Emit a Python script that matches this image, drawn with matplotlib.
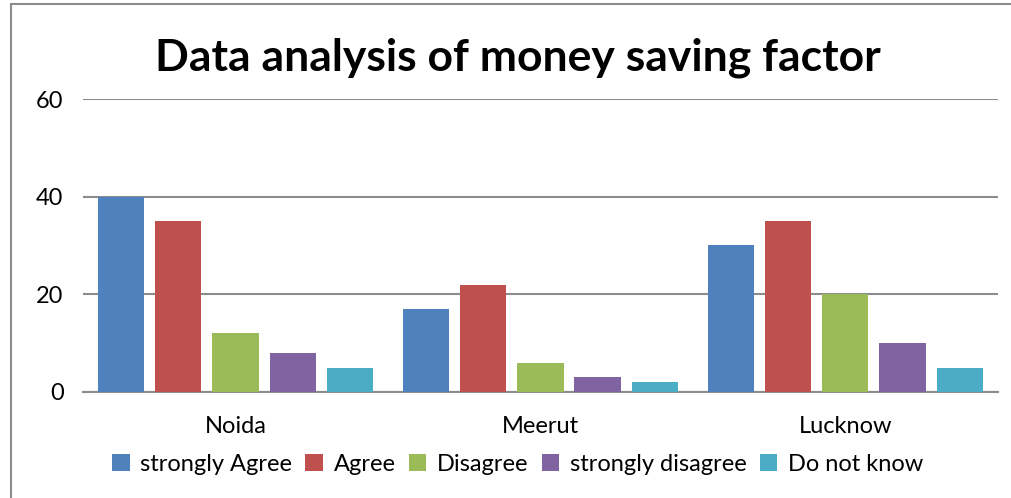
import numpy as np
import matplotlib
matplotlib.use('Agg')
import matplotlib.pyplot as plt
from matplotlib.patches import Rectangle

plt.rcParams['font.family'] = ['Lato', 'DejaVu Sans']

cities = ['Noida', 'Meerut', 'Lucknow']
series = ['strongly Agree', 'Agree', 'Disagree', 'strongly disagree', 'Do not know']
strongly_agree = [40, 17, 30]
agree = [35, 22, 35]
disagree = [12, 6, 20]
strongly_disagree = [8, 3, 10]
do_not_know = [5, 2, 5]
yticks = [0, 20, 40, 60]

values = [strongly_agree, agree, disagree, strongly_disagree, do_not_know]
colors = ['#4F81BD', '#C0504D', '#9BBB59', '#8064A2', '#4BACC6']

fig = plt.figure(figsize=(10.11, 4.98), dpi=100)
ax = fig.add_axes([0.0821, 0.2129, 0.9050, 0.5883])

x = np.arange(len(cities))
step = 0.187
width = 0.151
for i, (vals, c, name) in enumerate(zip(values, colors, series)):
    ax.bar(x + (i - 2) * step, vals, width=width, color=c, label=name, zorder=3)

ax.set_xlim(-0.5, 2.5)
ax.set_ylim(0, 60)
ax.set_yticks(yticks)
ax.set_xticks(x)
ax.set_xticklabels(cities)
ax.tick_params(length=0, labelsize=17, colors='black')
ax.tick_params(axis='y', pad=14)
ax.tick_params(axis='x', pad=17)
ax.grid(axis='y', color='#8C8C8C', linewidth=1.5, zorder=0)
for s in ['left', 'right', 'top']:
    ax.spines[s].set_visible(False)
ax.spines['bottom'].set_color('#8C8C8C')
ax.spines['bottom'].set_linewidth(1.5)

fig.text(0.512, 0.885, 'Data analysis of money saving factor', ha='center', va='center',
         fontsize=32, fontweight='bold')

fig.legend(loc='center', bbox_to_anchor=(0.512, 0.068), ncol=5, frameon=False,
           fontsize=17, handlelength=0.75, handleheight=0.75, handletextpad=0.45,
           columnspacing=0.55)

# outer chart frame (cropped on the right/bottom)
fig.patches.append(Rectangle((11 / 1011, -0.1), 1.2, 1.1 - 4.5 / 498, transform=fig.transFigure,
                             fill=False, edgecolor='#8C8C8C', linewidth=1.5))

fig.savefig('out.png', dpi=100)
